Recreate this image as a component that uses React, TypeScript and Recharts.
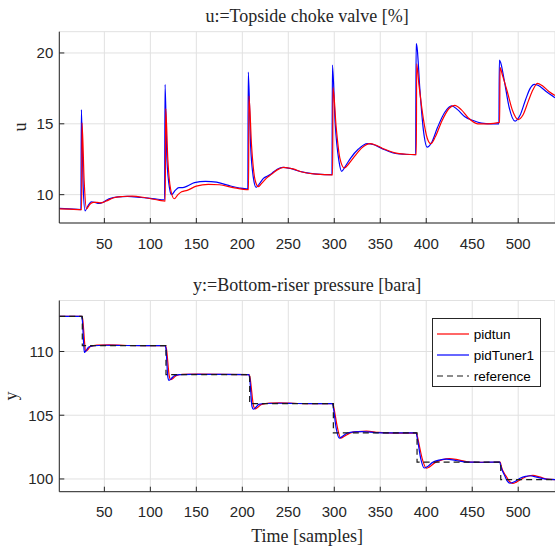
import { CartesianGrid, Legend, Line, LineChart, XAxis, YAxis } from "recharts";

// sample ticks shared by both plots
const xTicks = [50, 100, 150, 200, 250, 300, 350, 400, 450, 500];
const uTicks = [10, 15, 20];
const yTicks = [100, 105, 110];
const legendOrder = ["pidtun", "pidTuner1", "reference"];

// u: topside choke valve, pidtun (red)
const uTimePidtun = [
  1, 12, 25.3, 25.7, 28, 30.6, 34, 38, 42, 46, 52, 60, 70, 80, 95, 110, 116.2,
  116.7, 119, 122, 126, 130, 134, 140, 150, 163, 175, 190, 206.8, 207.2, 210,
  214, 217.5, 221, 226, 232, 238, 245, 255, 265, 280, 298.2, 298.6, 302, 306,
  311, 316, 322, 330, 339, 345, 355, 366, 378, 389.2, 389.6, 392, 397, 401,
  405, 410, 417, 425, 431, 438, 446, 456, 467, 479.8, 480.2, 483, 488, 494,
  499.8, 505, 511, 516, 521, 526, 533, 540,
];
const uPidtun = [
  9.0, 8.98, 8.95, 15.07, 11.0, 9.0, 9.3, 9.45, 9.45, 9.42, 9.55, 9.78, 9.87,
  9.9, 9.78, 9.6, 9.55, 16.08, 12.5, 10.4, 9.71, 10.0, 10.2, 10.3, 10.6, 10.72,
  10.7, 10.5, 10.35, 16.96, 13.5, 11.0, 10.57, 10.8, 11.15, 11.45, 11.75, 11.93,
  11.82, 11.6, 11.45, 11.4, 17.55, 14.8, 12.6, 11.88, 12.2, 12.7, 13.3, 13.6,
  13.5, 13.2, 12.95, 12.85, 12.82, 19.24, 17.8, 15.3, 14.0, 13.6, 14.1, 15.2,
  16.1, 16.3, 16.0, 15.4, 15.0, 15.0, 15.1, 18.96, 18.4, 17.3, 15.9, 15.3, 15.6,
  16.6, 17.4, 17.85, 17.7, 17.3, 17.0,
];

// u: pidTuner1 (blue)
const uTimeTuner = [
  1, 12, 24.5, 25, 27, 29, 32, 36, 40, 44, 48, 55, 65, 75, 90, 105, 115.5, 116,
  118, 121, 123, 127, 131, 135, 140, 148, 160, 172, 185, 197, 206, 206.5, 209,
  212, 215, 219, 223, 227, 232, 238, 244, 252, 262, 276, 290, 297.5, 298, 301,
  305, 308, 312, 318, 326, 336, 342, 352, 364, 376, 388.5, 389, 390, 393, 397,
  401, 406, 412, 420, 427.6, 434, 442, 451, 460, 470, 479, 479.5, 481, 485, 490,
  496.6, 502, 508, 513, 517.6, 522, 530, 540,
];
const uTuner = [
  9.03, 9.0, 8.95, 16.0, 10.5, 8.86, 9.2, 9.5, 9.45, 9.38, 9.45, 9.7, 9.85,
  9.88, 9.8, 9.7, 9.64, 17.78, 12.5, 10.4, 10.0, 10.3, 10.5, 10.5, 10.6, 10.85,
  10.94, 10.88, 10.65, 10.47, 10.4, 18.65, 13.5, 11.2, 10.52, 10.8, 11.15, 11.3,
  11.5, 11.8, 11.93, 11.85, 11.65, 11.48, 11.42, 11.41, 19.15, 15.0, 12.4,
  11.65, 12.0, 12.6, 13.2, 13.6, 13.55, 13.25, 12.94, 12.85, 12.82, 20.66,
  20.4, 17.5, 14.5, 13.35, 13.7, 14.7, 15.8, 16.27, 16.0, 15.5, 15.23, 15.05,
  15.0, 15.0, 19.5, 19.3, 18.0, 16.2, 15.19, 15.6, 16.7, 17.5, 17.78, 17.7,
  17.3, 16.84,
];

// y: bottom-riser pressure, pidtun (red)
const yTimePidtun = [
  1, 25.5, 26.5, 28.5, 29.5, 31.5, 35, 42, 55, 75, 116.5, 117.5, 120.5, 122,
  124.5, 128, 135, 150, 207.5, 208.5, 212, 214, 216.5, 221, 230, 240, 260,
  298.5, 299.5, 303.5, 307, 311, 317, 326, 335, 348, 365, 389.5, 390.5, 396,
  400, 403.5, 410, 417, 425, 435, 448, 462, 480.5, 481.5, 487, 490.5, 494, 498,
  505, 511, 516, 523, 532, 540,
];
const yPidtun = [
  112.75, 112.75, 112.5, 110.7, 110.02, 110.1, 110.4, 110.5, 110.52, 110.47,
  110.46, 110.2, 108.1, 107.8, 107.88, 108.1, 108.2, 108.22, 108.19, 107.9,
  105.8, 105.5, 105.6, 105.85, 105.95, 105.97, 105.92, 105.91, 105.6, 104.0,
  103.2, 103.35, 103.6, 103.72, 103.76, 103.65, 103.6, 103.61, 103.3, 101.5,
  100.85, 100.95, 101.3, 101.5, 101.6, 101.5, 101.32, 101.3, 101.32, 101.0,
  100.2, 99.8, 99.65, 99.75, 100.05, 100.23, 100.28, 100.16, 99.98, 99.95,
];

// y: pidTuner1 (blue)
const yTimeTuner = [
  1, 25, 26, 27.5, 28.3, 30, 33, 38, 50, 70, 116, 117, 119, 120.3, 122.5, 126,
  132, 145, 207, 208, 210.5, 212, 214.5, 218, 225, 240, 260, 298, 299, 302,
  305.5, 309, 314, 322, 330, 345, 360, 389, 390, 394, 397.8, 401, 407, 414, 422,
  432, 445, 460, 480, 481, 485, 488, 491, 495, 502, 508, 513, 520, 530, 540,
];
const yTuner = [
  112.75, 112.75, 112.5, 110.6, 109.92, 110.05, 110.35, 110.45, 110.49, 110.47,
  110.46, 110.2, 108.0, 107.73, 107.85, 108.1, 108.19, 108.2, 108.19, 107.9,
  105.7, 105.47, 105.6, 105.85, 105.92, 105.94, 105.92, 105.91, 105.6, 104.0,
  103.2, 103.35, 103.6, 103.7, 103.72, 103.64, 103.61, 103.61, 103.3, 101.6,
  100.86, 100.95, 101.3, 101.48, 101.55, 101.45, 101.32, 101.31, 101.32, 101.0,
  100.3, 99.85, 99.67, 99.75, 100.05, 100.2, 100.25, 100.14, 99.98, 99.95,
];

// reference set-point steps
const refTime = [1, 26, 117, 208, 299, 390, 481, 540];
const refValue = [112.75, 110.46, 108.19, 105.91, 103.61, 101.32, 99.95, 99.95];

const zip = (t: number[], v: number[]) => t.map((x, i) => ({ t: x, v: v[i] }));

const uRed = zip(uTimePidtun, uPidtun);
const uBlue = zip(uTimeTuner, uTuner);
const yRed = zip(yTimePidtun, yPidtun);
const yBlue = zip(yTimeTuner, yTuner);
const yRef = zip(refTime, refValue);

const AXIS = "#262626";
const GRID = "#e1e1e1";
const SANS = "'Liberation Sans', Arial, Helvetica, sans-serif";
const SERIF = "'Liberation Serif', 'Times New Roman', serif";
const tickStyle = { fill: AXIS, fontSize: 15, fontFamily: SANS };
const blank = () => "";

function MatlabLegend({ payload }: any) {
  const items = [...(payload || [])].sort(
    (a: any, b: any) => legendOrder.indexOf(a.value) - legendOrder.indexOf(b.value),
  );
  return (
    <div
      style={{
        width: 109,
        height: 68.4,
        boxSizing: "border-box",
        border: `1px solid ${AXIS}`,
        background: "#fff",
        paddingTop: 4.5,
        fontFamily: SANS,
        fontSize: 13.5,
        color: "#000",
      }}
    >
      {items.map((entry: any) => (
        <div
          key={entry.value}
          style={{ display: "flex", alignItems: "center", height: 21 }}
        >
          <svg width={37} height={10} style={{ marginLeft: 4 }}>
            <line
              x1={0}
              x2={32}
              y1={5}
              y2={5}
              stroke={entry.color}
              strokeWidth={1.2}
              strokeDasharray={entry.payload?.strokeDasharray}
            />
          </svg>
          <span>{entry.value}</span>
        </div>
      ))}
    </div>
  );
}

const textBox = (
  top: number,
  left: number,
  width: number,
  text: string,
  rotate = false,
) => (
  <div
    style={{
      position: "absolute",
      top,
      left,
      width,
      height: 18,
      lineHeight: "18px",
      textAlign: "center",
      fontFamily: SERIF,
      fontSize: 18,
      color: AXIS,
      whiteSpace: "nowrap",
      transform: rotate ? "rotate(-90deg)" : undefined,
    }}
  >
    {text}
  </div>
);

export default function App() {
  return (
    <div
      style={{
        position: "absolute",
        left: 0,
        top: 0,
        width: 555,
        height: 550,
        background: "#fff",
        overflow: "hidden",
      }}
    >
      {textBox(6.6, 59.3, 495.7, "u:=Topside choke valve [%]")}
      {textBox(118.3, 0.4, 40, "u", true)}
      {textBox(275.6, 59.3, 495.7, "y:=Bottom-riser pressure [bara]")}
      {textBox(387, -9.2, 40, "y", true)}
      {textBox(526.6, 59.3, 495.7, "Time [samples]")}

      <div style={{ position: "absolute", left: 0, top: 0 }}>
        <LineChart
          width={555}
          height={262}
          margin={{ top: 31.7, right: 0, bottom: 0, left: 19.3 }}
        >
          <CartesianGrid stroke={GRID} />
          <XAxis
            dataKey="t"
            type="number"
            domain={[1, 540]}
            ticks={xTicks}
            allowDataOverflow
            height={39}
            tickSize={-5}
            tickMargin={20}
            stroke={AXIS}
            tick={tickStyle}
          />
          <XAxis
            xAxisId="top"
            orientation="top"
            type="number"
            domain={[1, 540]}
            ticks={xTicks}
            height={0}
            tickSize={-5}
            tickFormatter={blank}
            stroke={AXIS}
          />
          <YAxis
            type="number"
            domain={[8, 21.5]}
            ticks={uTicks}
            allowDataOverflow
            width={40}
            tickSize={-5}
            tickMargin={11}
            stroke={AXIS}
            tick={tickStyle}
          />
          <YAxis
            yAxisId="right"
            orientation="right"
            type="number"
            domain={[8, 21.5]}
            ticks={uTicks}
            width={0}
            tickSize={-5}
            tickFormatter={blank}
            stroke={AXIS}
          />
          <Line
            data={uBlue}
            dataKey="v"
            type="monotone"
            stroke="#0000ff"
            strokeWidth={1.2}
            dot={false}
            isAnimationActive={false}
            name="pidTuner1"
          />
          <Line
            data={uRed}
            dataKey="v"
            type="monotone"
            stroke="#ff0000"
            strokeWidth={1.2}
            dot={false}
            isAnimationActive={false}
            name="pidtun"
          />
        </LineChart>
      </div>

      <div style={{ position: "absolute", left: 0, top: 270 }}>
        <LineChart
          width={555}
          height={260}
          margin={{ top: 30.5, right: 0, bottom: 0, left: 19.3 }}
        >
          <CartesianGrid stroke={GRID} />
          <XAxis
            dataKey="t"
            type="number"
            domain={[1, 540]}
            ticks={xTicks}
            allowDataOverflow
            height={38.3}
            tickSize={-5}
            tickMargin={20}
            stroke={AXIS}
            tick={tickStyle}
          />
          <XAxis
            xAxisId="top"
            orientation="top"
            type="number"
            domain={[1, 540]}
            ticks={xTicks}
            height={0}
            tickSize={-5}
            tickFormatter={blank}
            stroke={AXIS}
          />
          <YAxis
            type="number"
            domain={[99, 114]}
            ticks={yTicks}
            allowDataOverflow
            width={40}
            tickSize={-5}
            tickMargin={11}
            stroke={AXIS}
            tick={tickStyle}
          />
          <YAxis
            yAxisId="right"
            orientation="right"
            type="number"
            domain={[99, 114]}
            ticks={yTicks}
            width={0}
            tickSize={-5}
            tickFormatter={blank}
            stroke={AXIS}
          />
          <Legend
            layout="vertical"
            align="center"
            verticalAlign="middle"
            content={<MatlabLegend />}
            wrapperStyle={{ left: 431.7, top: 48.3, width: 109, height: 68.4 }}
          />
          <Line
            data={yRed}
            dataKey="v"
            type="monotone"
            stroke="#ff0000"
            strokeWidth={1.2}
            dot={false}
            isAnimationActive={false}
            name="pidtun"
          />
          <Line
            data={yBlue}
            dataKey="v"
            type="monotone"
            stroke="#0000ff"
            strokeWidth={1.2}
            dot={false}
            isAnimationActive={false}
            name="pidTuner1"
          />
          <Line
            data={yRef}
            dataKey="v"
            type="stepAfter"
            stroke="#1a1a1a"
            strokeWidth={1.2}
            strokeDasharray="6 4"
            dot={false}
            isAnimationActive={false}
            name="reference"
          />
        </LineChart>
      </div>
    </div>
  );
}
